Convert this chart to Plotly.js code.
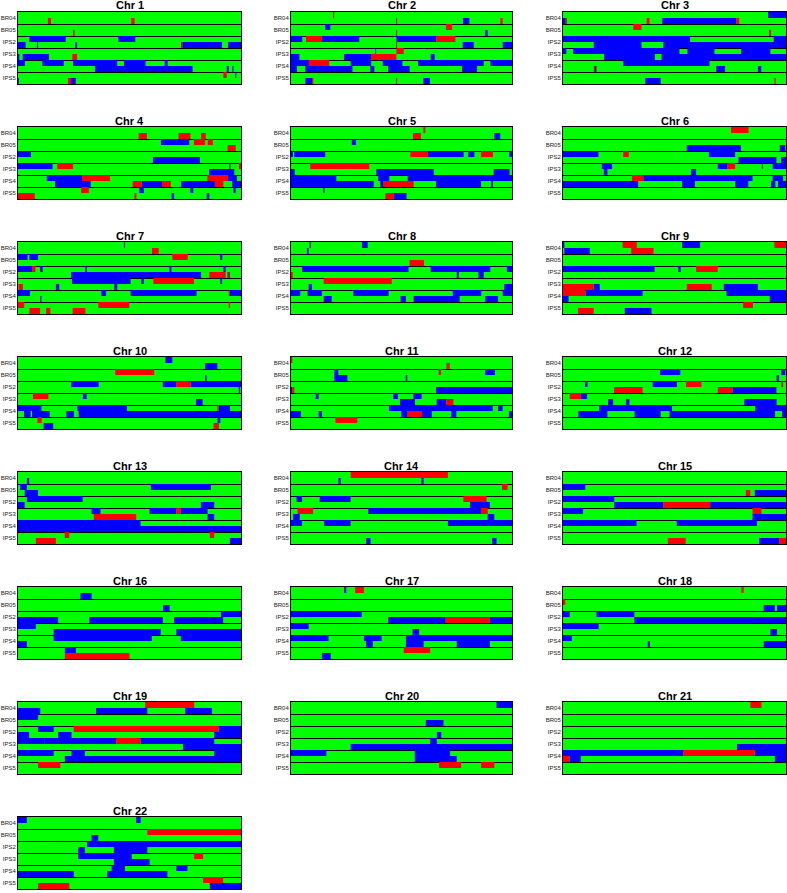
<!DOCTYPE html>
<html>
<head>
<meta charset="utf-8">
<script src="https://cdn.plot.ly/plotly-3.0.1.min.js"></script>
<style>
  body { margin: 0; background: #fff; }
  #plot { width: 787px; height: 893px; }
</style>
</head>
<body>
<div id="plot"></div>
<script>
// samples, top to bottom; every sample has two haplotype tracks (upper / lower half of its row)
var samples = ['BR04', 'BR05', 'IPS2', 'IPS3', 'IPS4', 'IPS5'];

// segments per track: b = blue, r = red, start-end in % of chromosome length; the rest is green
var chr1 = ['', 'r13.4-14.8 r50.8-52.3', '', 'r24.7-25.4',
  'b5.1-21.4 b45-52.6', 'b0-3.4 b8.5-9 b25.7-26.5 r73.1-73.7 b73.7-91.5 b94.2-100',
  '', 'b0-0.6 b2.1-13.9 r24.4-26.5',
  'b0-3.1 b10.9-20.5 b24.7-44.5 b47.5-57.2 b65.8-67.1', 'b34.5-78.3 b93.6-94.6 b96.1-96.6',
  'r92.1-93.6 b97.5-97.9', 'b0-0.4 r22.4-23.8 b23.8-25.9'];
var chr2 = ['r19-19.5', 'r47.5-48 b77.8-80.7 r94.7-95.8', 'b15.5-17.8 r70.1-72.9', 'r47.5-48 b87.9-89',
  'b0-5.1 r6.8-14 b14-30.9 b47.7-65.8 r65.8-74.4', 'r47.5-48 b77.7-82.7 b95.8-100',
  'b38.1-38.5 r47.7-51', 'b0-3.8 b24-36.3 r36.3-47.7 b63.2-65',
  'b0-8.1 r8.1-17.3 b27-36.3 b41.5-50.4 b57.5-87.2 b90.2-100', 'b0-2.7 b6.5-27.8 b35.9-37.7 b44-53.7 b77.4-84.2',
  '', 'b6.5-9.5 r9.5-10.1 r47.5-48 b59.9-62.9'];
var chr3 = ['b92-100', 'b0-1.2 r1.2-1.8 r37.5-38.8 b44.5-77.7 r77.7-79', 'r31.5-35.2', 'r92.4-93.3',
  'b0-57 b94.5-100', 'b13.8-35.2 b45-100',
  'b0-1.5 b4.5-52.2 b55.8-67.9 b79.9-93', 'b18.4-41.2 b44.2-100',
  'b27-65.7', 'r13.8-14.4 b14.4-15 b68.7-72.7 b87.4-88.9',
  '', 'b36.9-43.8 r94.8-95.4'];
var chr4 = ['', 'r54.1-57.8 r72-77.3 r82.1-84.2', 'b64.1-76.8 r78.9-83.9 r85.1-87.4', 'r94-97.6',
  'b0-5.8', 'b60.5-81.6',
  'b0-15.5 r17.6-24.7 b94.8-95.3 r99.1-100', 'b85.7-97',
  'b12.9-28.7 r28.7-41.3 r84.9-94.2 b94.2-98.2', 'b16.6-32.6 r51.4-55.5 b55.5-64.6 r64.6-68.5 b73.2-88.3 r88.3-92.1 b96.1-100',
  'r28.3-31.8 b54.4-56.4 b77.3-78.6 b96.6-97.6', 'r0-7.5 r52.2-53.1 b68.9-70 b84.6-85.8'];
var chr5 = ['r59.9-60.8', 'r55.2-58.8 b92-94.7', 'b27.5-29.4', '',
  'b0-0.9 b1.5-15.5 r54-62 b62-78.1 b80.2-83 r86-91.4 b98.8-100', '',
  'r8.7-35.4', 'b0-1.7 b38.6-64.6 b91.7-98.9',
  'b0-20.5 b39.4-44.5 b52.8-100', 'b0-37.4 b40.4-41.9 r41.9-55.5 b65.6-86 b90.6-91.4',
  'b14.6-15.2', 'r42.7-46.6 b46.6-52.3'];
var chr6 = ['r75.3-83.2', '', '', 'b55.5-79.8 b97.2-99.7',
  'b0-15.9 r27-29.5 b65.4-77.2', 'b78.7-95.7 b97.8-100',
  'b17.4-22 b69.4-73.8 r73.8-77.2 b89.2-89.6 b94-100', 'b18.3-19.9 b57.4-59.7',
  'r30.9-36 b36-85 b94-98.7', 'b0-33.7 b53.4-59.2 b77.2-83.1 b93.3-95.2 b96.4-100',
  '', ''];
var chr7 = ['b47.5-48', 'r60.1-63.1', 'b0-4.3 b5.1-9 r69.2-76.1 b90.6-91.6', '',
  'b0-6.3 r6.3-7.8 b9.9-11.1 b30.2-30.9 b67.9-68.8 b92.1-93.1', 'b23.8-82.1 r85.8-93.1 b94-94.5 r94.5-95.1',
  'b24.2-50.5 b55.3-56.4 r60.7-78.9 b90.7-91.5', 'r0.3-2.2 b17-18.5 b43.2-44.5',
  'b0-5.4 b37.4-39.5 b50.5-80.1 r94.5-94.9 b94.9-100', 'b9.9-10.5',
  'r0-2.8 r36-49.9 r94.5-95.1', 'r5.1-9.9 r12.6-14.5 r24.5-30.2'];
var chr8 = ['b8.4-9 b32.1-34.7', 'b7.2-8', '', 'r53.7-60.2',
  'b5-53.2 b63.2-90.2 b97.7-100', 'r0-0.8 b75-76 b84.8-87.2',
  'r14.8-45.6', 'b8-9.5 b96.5-100',
  'b0-4.2 b7.5-14 b28.2-44.2 b73.2-86.1 b95.8-100', 'b14.8-18.4 b49.6-52 b55.5-76.3 b87.9-93.7',
  '', ''];
var chr9 = ['b0-0.6 r26.7-33.1 b53.4-61.5 r94.8-100', 'b0.6-12 r30.6-40.6', '', '',
  'b0-41.1 b51.7-52.8 r59.7-69.4', '',
  '', 'r0-13.8 b13.8-16.5 r55.5-66.7 b72.1-87.4',
  'r0-10.2 b10.2-35.7 b73.3-100', 'b0-2.5 b92.7-100',
  'r80.8-85.2', 'r6.7-13.8 b27.7-39.7'];
var chr10 = ['b66.1-69.2', 'b83.9-89.4', 'r43.6-61.1', 'b83.9-84.6',
  'b23.9-36.2 b64.9-70.9 r70.9-77.4 b77.4-100', 'b99-99.6',
  'r6.7-13.6 b29.1-30.8', 'b79.8-82.8',
  'b0-10.5 b26.6-48.9 r89.4-90 b90-95.1', 'b2.7-5.7 b6.3-14.2 b21.7-25.1 b27.2-100',
  'r8.7-10.6 b89.5-90.7', 'b11.5-15.8 r87.7-90.1'];
var chr11 = ['r0-0.6', 'r70.3-71.8', 'b19.6-21.4 r66.8-67.9 b87.9-92.3', 'b19.6-25.5 b51.9-52.6',
  '', 'b0-0.6 r0.6-1.5 b65.6-100',
  'b11.2-12.5 b46.3-48.4 b55.4-59.1', 'b49.3-56.1 b65.9-70.3 r70.3-73.5',
  'b44.3-91.3 b93.7-95.8', 'b0-4.5 b12.5-14 b49.9-52.8 r52.8-59.3 b59.3-63.7 b72.5-74.8 b98.6-100',
  'r20.1-30', ''];
var chr12 = ['', '', 'b43.5-52.6 b97.9-99.7', 'b95.8-96.9',
  'b9.9-11 b40.2-51.1 r55.2-62.1 r97.9-98.7', 'r22.9-35.7 r69.4-76 b76-95.7',
  'r3-8.1 b8.1-10.8', 'b20.2-22.5 b28.2-29.8 b81.3-95.8',
  'b16.2-48.9 b86.2-100', 'b6.9-19.9 b32.1-43.8 b47.8-95.1 b98.2-100',
  '', ''];
var chr13 = ['', 'b4-5', 'b1-4 b59.6-86.5', 'b3-9',
  'b4-29', 'b0-3 b82-88',
  'b33-37 b59-71 r71-73 b73-85', 'r34-53 b85-88',
  'b0-55', 'b0-100',
  'r21-23 r86-88', 'r8-17 b95-100'];
var chr14 = ['r27-71', 'b21.5-22.5 b59-60', 'r95.5-98', '',
  'b2.5-5 b13-27 r78-88.5', 'b81-90',
  'r3-10 b35-87 r86-89', 'b1-4 b89-92',
  'b0-5 b15-27 b71-100', '',
  '', 'b34-36 b91-93'];
var chr15 = ['', '', 'b0-10', 'r82-84 b86-100',
  'b0-23', 'b23-45 r45-66 b66-100',
  'b0-9 r85-89', 'b85-100',
  'b0-33 b51-87', '',
  '', 'r47-55 b88-97 r97-100'];
var chr16 = ['', 'b28-33', '', 'b65-68',
  'b91-100', 'b0-18 b32-65 b70-92',
  'b0-8', 'b16-64 b71-100',
  'b16-60 b73-100', 'b0-4',
  'b21-26', 'r21-50'];
var chr17 = ['b24-25 r29-33', '', '', '',
  'b0-32', 'b44-70 r70-90 b90-100',
  'b0-8', 'b55-58',
  'b0-17 b33-41 b52-100', 'b34-37 b52-60 b75-90',
  'r51-63', 'b14-18'];
var chr18 = ['r80-81', '', 'r0-1', 'b90-95 b96-100',
  'b0-3 b15-32', 'b32-100',
  'b0-16', 'b93-96',
  'b0-4', 'b38-39 b90-100',
  '', ''];
var chr19 = ['r57-79', 'b0-10 b35-58 b75-87', 'b0-9', '',
  'b9-16 r25-90 b90-100', 'b0-5 b18-24 b88-100',
  'b0-12 b12-44 r44-55 b55-88', 'b74-100',
  'b0-16 b24-30 b88-100', 'b21-100',
  'r9-19', ''];
var chr20 = ['b93-100', '', '', 'b61-69',
  '', 'b66-68',
  'b63-66', 'b27-100',
  'b0-16 b56-72', 'b56-75',
  'r67-77 r86-92', ''];
var chr21 = ['r84-89', '', '', '',
  '', '',
  '', 'b78-100',
  'b0-4 b4-54 r54-86 b86-100', 'r0-3 b3-8 b95-100',
  '', ''];
var chr22 = ['b0-4 b53-55', '', 'r58-100', 'b33-36',
  'b31-100', 'b27-30 b43-58',
  'b27-51 r79-83', 'b43-59',
  'b42-48 b71-76', 'b0-25 b40-67',
  'r83-92', 'r9-23 b86-100'];

var chroms = [chr1, chr2, chr3, chr4, chr5, chr6, chr7, chr8, chr9, chr10, chr11,
  chr12, chr13, chr14, chr15, chr16, chr17, chr18, chr19, chr20, chr21, chr22];
var colors = {b: '#0000ff', r: '#ff0000'};

var W = 787, H = 893;
var colX = [[18, 241], [291, 512], [563, 786]];

function parseTrack(s) {
  return s.split(' ').filter(function (t) { return t; }).map(function (t) {
    var p = t.slice(1).split('-');
    return {c: t[0], a: parseFloat(p[0]), b: parseFloat(p[1])};
  });
}

var data = [];
var layout = {
  width: W, height: H,
  margin: {l: 0, r: 0, t: 0, b: 0},
  paper_bgcolor: '#fff',
  plot_bgcolor: '#00ff00',
  barmode: 'overlay',
  showlegend: false,
  annotations: []
};

chroms.forEach(function (tracks, n) {
  var sfx = n === 0 ? '' : String(n + 1);
  ['b', 'r'].forEach(function (c) {
    var ys = [], xs = [], bases = [];
    tracks.forEach(function (t, k) {
      parseTrack(t).forEach(function (s) {
        if (s.c !== c) return;
        ys.push(k + 0.5); xs.push(s.b - s.a); bases.push(s.a);
      });
    });
    data.push({
      type: 'bar', orientation: 'h', y: ys, x: xs, base: bases, width: 1,
      marker: {color: colors[c], line: {width: 0}},
      xaxis: 'x' + sfx, yaxis: 'y' + sfx, hoverinfo: 'skip'
    });
  });

  var col = n % 3, row = Math.floor(n / 3);
  var top = 12 + 115 * row, bot = top + 72;
  layout['xaxis' + sfx] = {
    domain: [colX[col][0] / W, colX[col][1] / W],
    range: [0, 100], anchor: 'y' + sfx,
    showgrid: false, zeroline: false, showticklabels: false, ticks: '',
    showline: true, mirror: true, linecolor: '#000', linewidth: 1
  };
  layout['yaxis' + sfx] = {
    domain: [1 - bot / H, 1 - top / H],
    range: [12, 0], anchor: 'x' + sfx,
    tickmode: 'array', tickvals: [1, 3, 5, 7, 9, 11], ticktext: samples,
    tickfont: {family: 'Liberation Sans, Arial, sans-serif', size: 6, color: '#222'},
    ticks: '', showgrid: false, zeroline: false,
    minor: {tickmode: 'array', tickvals: [2, 4, 6, 8, 10], showgrid: true, gridcolor: '#000', gridwidth: 1, ticks: ''},
    showline: true, mirror: true, linecolor: '#000', linewidth: 1
  };
  layout.annotations.push({
    text: '<b>Chr ' + (n + 1) + '</b>', xref: 'paper', yref: 'paper',
    x: (colX[col][0] + colX[col][1]) / 2 / W, y: 1 - (top - 6.5) / H,
    xanchor: 'center', yanchor: 'middle', showarrow: false,
    font: {family: 'Liberation Sans, Arial, sans-serif', size: 11, color: '#000'}
  });
});

Plotly.newPlot('plot', data, layout, {displayModeBar: false, staticPlot: true});
</script>
</body>
</html>
